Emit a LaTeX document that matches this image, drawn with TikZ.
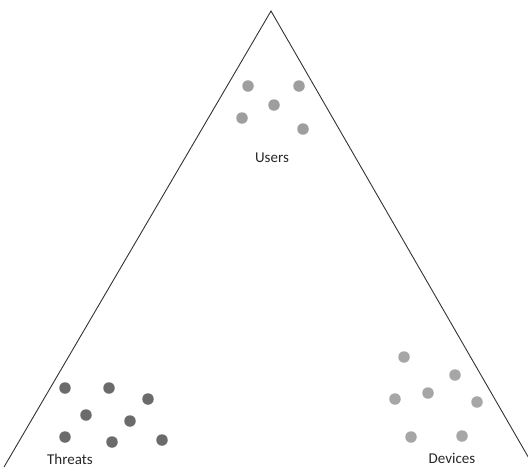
\documentclass[tikz,border=0pt]{standalone}
\usepackage{fontspec}
\setmainfont{Carlito}
\usepackage{tikz}

\begin{document}
\begin{tikzpicture}[
  x=1pt, y=-1pt,
  font=\fontsize{15}{17}\selectfont,
  side/.style={draw=black!80, line width=0.9pt},
  dot/.style={circle, inner sep=0pt, minimum size=11.5pt},
  usr/.style={dot, fill=black!38},
  thr/.style={dot, fill=black!58},
  dev/.style={dot, fill=black!35},
  lbl/.style={text=black!85, inner sep=0pt}
]
\useasboundingbox (0,0) rectangle (528,467);
\coordinate (apex) at (271,11);
\coordinate (bl) at (4,467);
\coordinate (br) at (534,467);
\draw[side] (bl) -- (apex) -- (br);
% users
\node[usr] (u1) at (248,86) {};
\node[usr] (u2) at (299,86) {};
\node[usr] (u3) at (274,105) {};
\node[usr] (u4) at (242,118) {};
\node[usr] (u5) at (303,129) {};
\node[lbl] (users) at (272,158) {Users};
% threats
\node[thr] (t1) at (65,388) {};
\node[thr] (t2) at (109,388) {};
\node[thr] (t3) at (148,399) {};
\node[thr] (t4) at (86,415) {};
\node[thr] (t5) at (130,421) {};
\node[thr] (t6) at (65,437) {};
\node[thr] (t7) at (112,442) {};
\node[thr] (t8) at (162,440) {};
\node[lbl] (threats) at (70,459) {Threats};
% devices
\node[dev] (d1) at (404,357) {};
\node[dev] (d2) at (455,375) {};
\node[dev] (d3) at (395,399) {};
\node[dev] (d4) at (428,393) {};
\node[dev] (d5) at (477,402) {};
\node[dev] (d6) at (411,437) {};
\node[dev] (d7) at (462,436) {};
\node[lbl] (devices) at (452,458) {Devices};
\end{tikzpicture}
\end{document}
